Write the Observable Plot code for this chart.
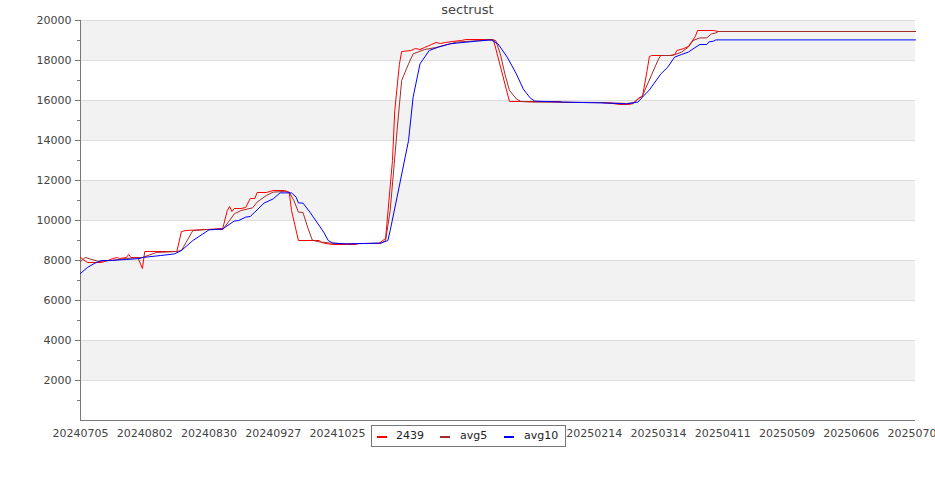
<!DOCTYPE html>
<html>
<head>
<meta charset="utf-8">
<script src="https://cdn.jsdelivr.net/npm/d3@7"></script>
<script src="https://cdn.jsdelivr.net/npm/@observablehq/plot@0.6"></script>
<style>
  html, body { margin: 0; padding: 0; background: #fff; overflow: hidden; }
  #wrap { position: relative; width: 935px; height: 500px; font-family: "DejaVu Sans", sans-serif; }
  #title { position: absolute; left: 0; width: 935px; top: 2px; text-align: center; font-size: 13px; color: #444; }
  #legend { position: absolute; left: 371px; top: 425px; width: 193px; height: 20px; border: 1px solid #777; background: #fff; font-size: 11px; color: #222; }
  .sw { position: absolute; top: 10px; width: 10px; height: 2px; }
  .lt { position: absolute; top: 3px; }
</style>
</head>
<body>
<div id="wrap">
  <div id="chart"></div>
  <div id="title">sectrust</div>
  <div id="legend"></div>
</div>
<script>
// ---- data ----
const seriesNames = ["2439", "avg5", "avg10"];
const seriesColors = ["#ff0000", "#a52a2a", "#0000ff"];

const redDates = ["20240705","20240708","20240714","20240717","20240719","20240721","20240722","20240725","20240726","20240727","20240730","20240801","20240802","20240816","20240818","20240820","20240829","20240905","20240907","20240908","20240909","20240910","20240913","20240915","20240917","20240919","20240920","20240924","20240927","20241002","20241004","20241005","20241007","20241008","20241017","20241018","20241020","20241023","20241102","20241103","20241112","20241115","20241118","20241119","20241121","20241122","20241126","20241128","20241130","20241202","20241205","20241207","20241209","20241211","20241214","20241218","20241220","20250101","20250108","20250130","20250131","20250217","20250222","20250225","20250301","20250303","20250305","20250307","20250309","20250310","20250311","20250319","20250321","20250322","20250325","20250327","20250330","20250331","20250407","20250409","20250704"];
const redValues = [8150,7900,7900,8000,8100,8150,8100,8150,8300,8150,8150,7600,8450,8450,9450,9500,9550,9600,10500,10700,10450,10600,10600,10650,11100,11100,11400,11400,11500,11500,11400,10500,9500,9000,9000,8900,8850,8800,8800,8850,8850,9100,13000,15500,17800,18450,18500,18600,18550,18650,18800,18900,18850,18900,18950,19000,19050,19050,15950,15950,15900,15900,15850,15800,15800,15850,16100,16200,17500,18200,18250,18250,18300,18500,18600,18700,19200,19500,19500,19450,19450];

const avg5Dates = ["20240705","20240707","20240713","20240718","20240725","20240731","20240801","20240807","20240816","20240818","20240820","20240823","20240829","20240905","20240908","20240910","20240913","20240916","20240918","20240920","20240924","20240927","20241002","20241004","20241006","20241008","20241010","20241012","20241014","20241016","20241022","20241029","20241113","20241115","20241117","20241120","20241122","20241125","20241127","20241202","20241207","20241216","20241230","20250102","20250104","20250106","20250108","20250111","20250113","20250118","20250217","20250228","20250303","20250307","20250314","20250315","20250320","20250324","20250327","20250329","20250401","20250404","20250406","20250408","20250409","20250704"];
const avg5Values = [7950,8150,7950,8000,8100,8150,8150,8400,8450,8500,8900,9500,9550,9550,10000,10330,10500,10580,10630,10920,11250,11420,11450,11420,11000,10420,10400,9670,9030,8950,8870,8830,8870,9000,10500,14500,17000,17830,18330,18550,18650,18920,19030,19000,18330,17330,16500,16080,15950,15920,15900,15850,15880,16250,18080,18250,18250,18420,18670,19000,19130,19130,19330,19380,19450,19450];

const avg10Dates = ["20240705","20240708","20240711","20240714","20240718","20240725","20240731","20240801","20240809","20240815","20240818","20240823","20240830","20240905","20240910","20240912","20240915","20240917","20240919","20240923","20240927","20240930","20241005","20241007","20241008","20241010","20241013","20241016","20241019","20241021","20241023","20241029","20241113","20241116","20241117","20241120","20241125","20241127","20241130","20241204","20241208","20241213","20241216","20241225","20241231","20250103","20250107","20250111","20250114","20250117","20250119","20250201","20250220","20250228","20250305","20250307","20250310","20250315","20250318","20250321","20250324","20250327","20250329","20250401","20250404","20250405","20250407","20250408","20250704"];
const avg10Values = [7350,7650,7850,8000,8000,8050,8100,8150,8250,8330,8500,9000,9530,9580,9970,10000,10170,10200,10420,10870,11080,11380,11380,11170,10880,10870,10420,9920,9420,9000,8870,8830,8870,9000,9500,11170,14000,16170,17830,18500,18670,18830,18870,18970,19030,18830,18170,17330,16580,16130,15970,15920,15870,15830,15920,16170,16530,17330,17670,18170,18300,18420,18580,18800,18800,18930,18970,19030,19030];

const xTickLabels = ["20240705","20240802","20240830","20240927","20241025","20241122","20241220","20250117","20250214","20250314","20250411","20250509","20250606","20250704"];
const yTickLabels = [2000,4000,6000,8000,10000,12000,14000,16000,18000,20000];
const yMinorTicks = [1000,3000,5000,7000,9000,11000,13000,15000,17000,19000];
const bandStarts = [2000,6000,10000,14000,18000];

// ---- build ----
const parse = d3.utcParse("%Y%m%d");
const fmt = d3.utcFormat("%Y%m%d");
function mk(dates, values, name) {
  return dates.map((d, i) => ({date: parse(d), value: values[i], series: name}));
}
const red = mk(redDates, redValues, seriesNames[0]);
const avg5 = mk(avg5Dates, avg5Values, seriesNames[1]);
const avg10 = mk(avg10Dates, avg10Values, seriesNames[2]);
const xTicks = xTickLabels.map(parse);
const bands = bandStarts.map(s => ({y1: s, y2: s + 2000}));

const chart = Plot.plot({
  width: 935,
  height: 500,
  marginLeft: 80,
  marginRight: 20,
  marginTop: 20,
  marginBottom: 80,
  style: {fontFamily: "DejaVu Sans, sans-serif", fontSize: "11px", background: "#fff"},
  x: {type: "utc", domain: [xTicks[0], xTicks[xTicks.length - 1]]},
  y: {domain: [0, 20000]},
  marks: [
    Plot.rect(bands, {y1: "y1", y2: "y2", fill: "#f2f2f2"}),
    Plot.ruleY(yTickLabels, {stroke: "#dddddd", strokeWidth: 1}),
    Plot.axisY({ticks: yTickLabels, tickSize: 5, tickPadding: 4, tickFormat: d => String(d), stroke: "#777", fill: "#444", label: null}),
    Plot.axisY({ticks: yMinorTicks, tickSize: 3, tickFormat: () => "", stroke: "#777", label: null}),
    Plot.axisX({ticks: xTicks, tickSize: 0, tickPadding: 9, tickFormat: fmt, fill: "#444", label: null}),
    Plot.ruleX([xTicks[0]], {stroke: "#777"}),
    Plot.ruleY([0], {stroke: "#777"}),
    Plot.line(red, {x: "date", y: "value", stroke: seriesColors[0], strokeWidth: 1}),
    Plot.line(avg5, {x: "date", y: "value", stroke: seriesColors[1], strokeWidth: 1}),
    Plot.line(avg10, {x: "date", y: "value", stroke: seriesColors[2], strokeWidth: 1})
  ]
});
document.getElementById("chart").appendChild(chart);

// legend
const legend = document.getElementById("legend");
const swX = [5, 68, 132];
const txX = [24, 88, 152];
seriesNames.forEach((n, i) => {
  const sw = document.createElement("div");
  sw.className = "sw"; sw.style.left = swX[i] + "px"; sw.style.background = seriesColors[i];
  legend.appendChild(sw);
  const t = document.createElement("div");
  t.className = "lt"; t.style.left = txX[i] + "px"; t.textContent = n;
  legend.appendChild(t);
});
</script>
</body>
</html>
